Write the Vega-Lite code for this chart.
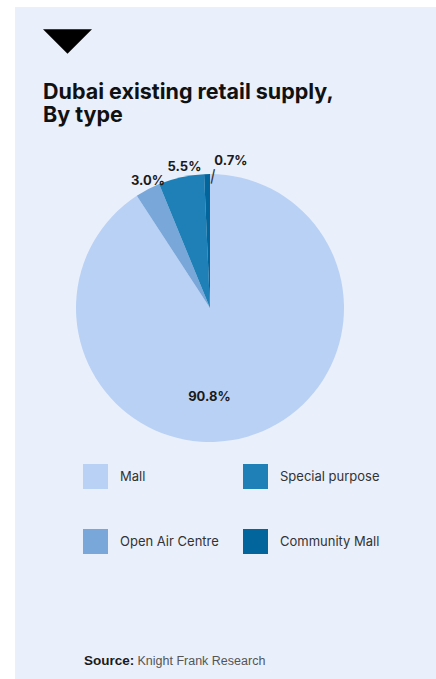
{
  "$schema": "https://vega.github.io/schema/vega-lite/v6.json",
  "width": 268,
  "height": 268,
  "autosize": {"type": "none"},
  "padding": {"left": 76, "top": 174, "right": 92, "bottom": 237},
  "background": "#e9effb",
  "title": {
    "text": ["Dubai existing retail supply,", "By type"],
    "anchor": "start",
    "frame": "group",
    "dx": -33,
    "offset": -126,
    "font": "Inter",
    "fontSize": 21.5,
    "fontWeight": 700,
    "color": "#111111",
    "lineHeight": 23
  },
  "datasets": {
    "supply": [
      {"type": "Mall", "share": 0.908, "rank": 1},
      {"type": "Open Air Centre", "share": 0.03, "rank": 2},
      {"type": "Special purpose", "share": 0.055, "rank": 3},
      {"type": "Community Mall", "share": 0.007, "rank": 4}
    ],
    "marker": [{"marker": "header"}],
    "source": [{"source": "Knight Frank Research"}],
    "edge": [{"left": 0, "top": 0}, {"left": 1, "top": 2}]
  },
  "layer": [
    {
      "data": {"name": "supply"},
      "encoding": {
        "theta": {"field": "share", "type": "quantitative", "stack": true},
        "order": {"field": "rank", "type": "quantitative"},
        "detail": {"field": "type", "type": "nominal"}
      },
      "layer": [
        {
          "mark": {"type": "arc", "strokeWidth": 0},
          "encoding": {
            "color": {
              "field": "type",
              "type": "nominal",
              "scale": {
                "domain": ["Mall", "Open Air Centre", "Special purpose", "Community Mall"],
                "range": ["#b9d1f4", "#79a7d9", "#1e80b6", "#02659b"]
              },
              "legend": {
                "orient": "none",
                "legendX": 7,
                "legendY": 290,
                "title": null,
                "columns": 2,
                "symbolType": "square",
                "symbolSize": 625,
                "symbolStrokeWidth": 0,
                "symbolOpacity": 1,
                "labelFont": "Inter",
                "labelFontSize": 13,
                "labelColor": "#333333",
                "labelOffset": 12,
                "rowPadding": 40,
                "columnPadding": 24,
                "padding": 0,
                "gridAlign": "each"
              }
            }
          }
        },
        {
          "mark": {"type": "text", "radius": 89, "dx": -26, "dy": 4, "font": "Inter", "fontSize": 13, "fontWeight": 700, "color": "#1a1a1a"},
          "encoding": {"text": {"field": "share", "type": "quantitative", "format": ".1%", "condition": {"test": "datum.type !== 'Mall'", "value": ""}}}
        },
        {
          "mark": {"type": "text", "radius": 142, "dx": 4, "dy": -1, "font": "Inter", "fontSize": 13, "fontWeight": 700, "color": "#1a1a1a"},
          "encoding": {"text": {"field": "share", "type": "quantitative", "format": ".1%", "condition": {"test": "datum.type !== 'Open Air Centre'", "value": ""}}}
        },
        {
          "mark": {"type": "text", "radius": 142, "dx": 5, "dy": -2, "font": "Inter", "fontSize": 13, "fontWeight": 700, "color": "#1a1a1a"},
          "encoding": {"text": {"field": "share", "type": "quantitative", "format": ".1%", "condition": {"test": "datum.type !== 'Special purpose'", "value": ""}}}
        },
        {
          "mark": {"type": "text", "radius": 142, "dx": 24, "dy": -5, "font": "Inter", "fontSize": 13, "fontWeight": 700, "color": "#1a1a1a"},
          "encoding": {"text": {"field": "share", "type": "quantitative", "format": ".1%", "condition": {"test": "datum.type !== 'Community Mall'", "value": ""}}}
        },
        {
          "mark": {"type": "text", "radius": 134, "dx": 6, "dy": 0, "angle": 12, "font": "DejaVu Sans", "fontSize": 15, "color": "#333333"},
          "encoding": {"text": {"condition": {"test": "datum.type === 'Community Mall'", "value": "|"}, "value": ""}}
        }
      ]
    },
    {
      "data": {"name": "marker"},
      "mark": {"type": "point", "filled": true, "color": "#000000", "opacity": 0},
      "encoding": {
        "shape": {
          "field": "marker",
          "type": "nominal",
          "scale": {"range": ["M-1,-0.5L1,-0.5L0,0.5Z"]},
          "legend": {
            "orient": "none",
            "legendX": -33,
            "legendY": -157,
            "title": null,
            "labelExpr": "''",
            "labelOffset": 0,
            "labelFontSize": 0,
            "symbolSize": 2401,
            "symbolFillColor": "#000000",
            "symbolStrokeWidth": 0,
            "symbolOpacity": 1,
            "padding": 0
          }
        }
      }
    },
    {
      "data": {"name": "source"},
      "mark": {"type": "point", "opacity": 0},
      "encoding": {
        "strokeDash": {
          "field": "source",
          "type": "nominal",
          "legend": {
            "orient": "none",
            "legendX": 8,
            "legendY": 481,
            "title": "Source:",
            "titleOrient": "left",
            "titleFont": "Liberation Sans",
            "titleFontSize": 13.5,
            "titleFontWeight": "bold",
            "titleColor": "#1a1a1a",
            "titlePadding": 4,
            "labelFont": "Liberation Sans",
            "labelFontSize": 12.5,
            "labelColor": "#555555",
            "labelOffset": -14,
            "symbolSize": 0,
            "symbolStrokeWidth": 0,
            "padding": 0
          }
        }
      }
    },
    {
      "data": {"name": "edge"},
      "mark": {"type": "point", "filled": true, "opacity": 0},
      "encoding": {
        "fill": {
          "field": "left",
          "type": "quantitative",
          "scale": {"domain": [0, 1], "range": ["#ffffff", "#ffffff"]},
          "legend": {
            "type": "gradient",
            "orient": "none",
            "legendX": -76,
            "legendY": -174,
            "direction": "vertical",
            "gradientLength": 679,
            "gradientThickness": 15,
            "gradientStrokeWidth": 0,
            "title": null,
            "labelExpr": "''",
            "labelFontSize": 0,
            "labelOffset": 0,
            "padding": 0
          }
        },
        "stroke": {
          "field": "top",
          "type": "quantitative",
          "scale": {"domain": [0, 2], "range": ["#ffffff", "#ffffff"]},
          "legend": {
            "type": "gradient",
            "orient": "none",
            "legendX": -76,
            "legendY": -174,
            "direction": "horizontal",
            "gradientLength": 436,
            "gradientThickness": 7,
            "gradientStrokeWidth": 0,
            "title": null,
            "labelExpr": "''",
            "labelFontSize": 0,
            "labelOffset": 0,
            "padding": 0
          }
        }
      }
    }
  ],
  "config": {"view": {"stroke": null}}
}
